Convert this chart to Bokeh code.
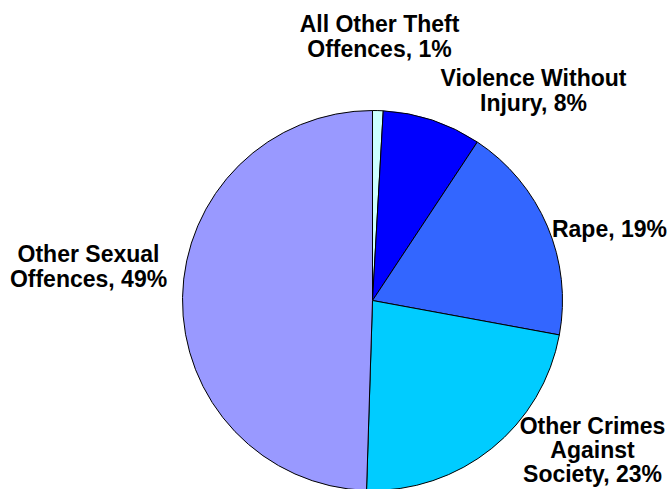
import math
from bokeh.plotting import figure
from bokeh.models import ColumnDataSource, Range1d
from bokeh.core.properties import value
from bokeh.embed import file_html
from bokeh.resources import INLINE

# ---- data (clockwise from 12 o'clock) ----
categories = ["All Other Theft Offences", "Violence Without Injury", "Rape",
              "Other Crimes Against Society", "Other Sexual Offences"]
shares = [0.9, 8.4, 18.6, 22.6, 49.5]
pct_labels = ["1%", "8%", "19%", "23%", "49%"]
colors = ["#CCFFFF", "#0000FF", "#3366FF", "#00CCFF", "#9999FF"]

# label text lines per slice
label_lines = [
    ["All Other Theft", "Offences, 1%"],
    ["Violence Without", "Injury, 8%"],
    ["Rape, 19%"],
    ["Other Crimes", "Against", "Society, 23%"],
    ["Other Sexual", "Offences, 49%"],
]
# label anchor (screen px: centre x, first baseline y, line step)
label_pos = [(379, 23, 25), (533, 77, 25), (609, 228, 25), (592, 425, 24), (88, 253, 25)]

W, H = 670, 489


def sx(x):
    return x


def sy(y):
    return H - y


p = figure(width=W, height=H, output_backend="svg", toolbar_location=None,
           x_range=Range1d(0, W), y_range=Range1d(0, H), min_border=0)
p.axis.visible = False
p.grid.visible = False
p.outline_line_color = None
p.background_fill_color = "white"

cx, cy, r = 372, 300, 190
total = sum(shares)
starts, ends = [], []
cum = 0.0
for s in shares:
    a0 = math.pi / 2 - 2 * math.pi * (cum + s) / total
    a1 = math.pi / 2 - 2 * math.pi * cum / total
    starts.append(a0)
    ends.append(a1)
    cum += s

src = ColumnDataSource(dict(x=[sx(cx)] * len(shares), y=[sy(cy)] * len(shares),
                            start=starts, end=ends, color=colors, cat=categories))
p.wedge(x="x", y="y", radius=r, start_angle="start", end_angle="end",
        fill_color="color", line_color="black", line_width=1, source=src)

tx, ty, tt = [], [], []
for (lx, ly, step), lines in zip(label_pos, label_lines):
    for i, line in enumerate(lines):
        tx.append(sx(lx))
        ty.append(sy(ly + i * step))
        tt.append(line)

p.text(x=tx, y=ty, text=tt, text_font=value("Liberation Sans"),
       text_font_style="bold", text_font_size="23px", text_color="black",
       text_align="center", text_baseline="alphabetic")

open("out.html", "w").write(file_html(p, INLINE))
